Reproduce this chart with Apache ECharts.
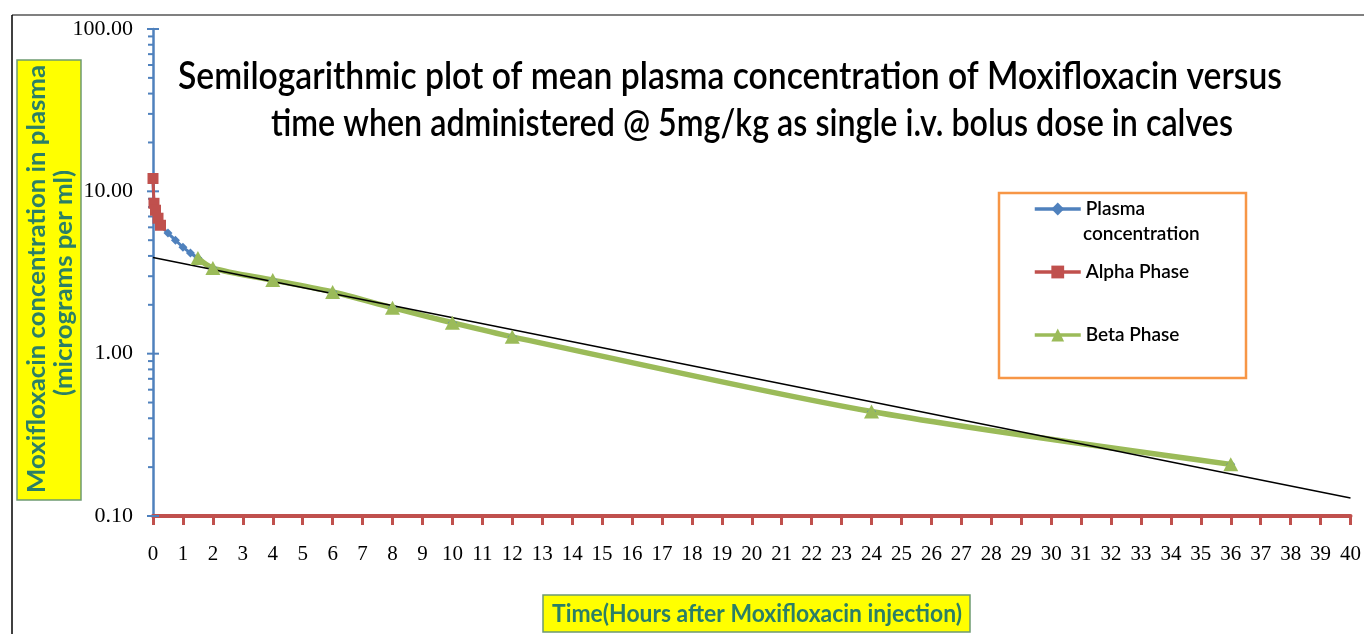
<!DOCTYPE html>
<html>
<head>
<meta charset="utf-8">
<script src="https://cdn.jsdelivr.net/npm/echarts@6/dist/echarts.min.js"></script>
<style>html,body{margin:0;padding:0;background:#fff;}#c{width:1364px;height:634px;}</style>
</head>
<body>
<div id="c"></div>
<script>
// ---- data ----
const plasmaTimes  = [0, 0.033, 0.083, 0.167, 0.25, 0.5, 0.75, 1, 1.25, 1.5, 2, 4, 6, 8, 10, 12, 24, 36];
const plasmaValues = [12.0, 8.44, 7.65, 6.83, 6.18, 5.53, 5.0, 4.53, 4.17, 3.88, 3.37, 2.84, 2.40, 1.92, 1.55, 1.27, 0.44, 0.208];
const alphaTimes   = [0, 0.033, 0.083, 0.167, 0.25];
const alphaValues  = [12.0, 8.44, 7.65, 6.83, 6.18];
const betaTimes    = [1.5, 2, 4, 6, 8, 10, 12, 24, 36];
const betaValues   = [3.88, 3.37, 2.84, 2.40, 1.92, 1.55, 1.27, 0.44, 0.208];
const trendTimes   = [0, 40];
const trendValues  = [3.91, 0.129];
const yMajorTicks  = [0.1, 1, 10, 100];
const yMinorTicks  = [0.2,0.3,0.4,0.5,0.6,0.7,0.8,0.9, 2,3,4,5,6,7,8,9, 20,30,40,50,60,70,80,90];
const seriesNames  = ['Plasma concentration', 'Alpha Phase', 'Beta Phase'];
const titleLines   = ['Semilogarithmic plot of mean plasma concentration of Moxifloxacin versus',
                      'time when administered @ 5mg/kg as single i.v. bolus dose in calves'];
const yAxisTitle   = ['Moxifloxacin concentration in plasma', '(micrograms per ml)'];
const xAxisTitle   = 'Time(Hours after Moxifloxacin injection)';

function zip(a, b) { return a.map((v, i) => [v, b[i]]); }
const ctx = document.createElement('canvas').getContext('2d');
function measure(text, font) { ctx.font = font; return ctx.measureText(text).width; }

const titleFont = '600 38px Lato';
const title1Scale = 1104 / measure(titleLines[0], titleFont);
const title2Scale = 962 / measure(titleLines[1], titleFont);
const nameFont = 'bold 25px Lato';
const yNameScale = 428 / measure(yAxisTitle[0], nameFont);
const xNameScale = 410 / measure(xAxisTitle, nameFont);
const nameColor = '#2b7f66';

const yTickData = yMajorTicks.map(v => [0, v, 1]).concat(yMinorTicks.map(v => [0, v, 0]));

const chart = echarts.init(document.getElementById('c'));
chart.setOption({
  animation: false,
  backgroundColor: '#fff',
  grid: { left: 153, right: 7, top: 29, bottom: 118 },
  xAxis: {
    type: 'value', min: 0, max: 40, interval: 1,
    axisLine: { show: true, onZero: false, lineStyle: { color: '#c0504d', width: 4 } },
    axisTick: { show: true, inside: false, length: 9, interval: 0, lineStyle: { color: '#c0504d', width: 3 } },
    axisLabel: { color: '#000', fontFamily: 'Liberation Serif', fontSize: 21, margin: 28 },
    splitLine: { show: false }
  },
  yAxis: {
    type: 'log', logBase: 10, min: 0.1, max: 100,
    axisLine: { show: true, lineStyle: { color: '#4f81bd', width: 2.5 } },
    axisTick: { show: false },
    axisLabel: { color: '#000', fontFamily: 'Liberation Serif', fontSize: 22, margin: 20,
                 formatter: v => Number(v).toFixed(2) },
    splitLine: { show: false }
  },
  legend: {
    data: seriesNames, orient: 'vertical', left: 1033, top: 198, padding: 0,
    itemWidth: 46, itemHeight: 16, itemGap: 41,
    lineStyle: { width: 3.5 },
    textStyle: { fontFamily: 'Lato', fontWeight: 600, fontSize: 19, color: '#000', lineHeight: 22 },
    formatter: n => n === 'Plasma concentration' ? 'Plasma' : n
  },
  series: [
    { name: 'yticks', type: 'custom', data: yTickData, clip: false, silent: true, z: 3,
      renderItem: (params, api) => {
        const p = api.coord([0, api.value(1)]);
        const major = api.value(2) === 1;
        return { type: 'rect',
          shape: { x: p[0] - (major ? 6 : 5), y: p[1] - 1, width: major ? 12 : 5, height: 2 },
          style: { fill: '#4f81bd' } };
      } },
    { name: seriesNames[0], type: 'line', data: zip(plasmaTimes, plasmaValues), smooth: 0.3,
      symbol: 'diamond', symbolSize: 9, color: '#4f81bd', lineStyle: { width: 3, color: '#4f81bd' } },
    { name: seriesNames[1], type: 'line', data: zip(alphaTimes, alphaValues),
      symbol: 'rect', symbolSize: 11, color: '#c0504d', lineStyle: { width: 3, color: '#c0504d' } },
    { name: seriesNames[2], type: 'line', data: zip(betaTimes, betaValues), smooth: 0.3,
      symbol: 'triangle', symbolSize: [15, 14], color: '#9bbb59', lineStyle: { width: 5.5, color: '#9bbb59' } },
    { name: 'trend', type: 'line', data: zip(trendTimes, trendValues), symbol: 'none', silent: true,
      lineStyle: { width: 1.5, color: '#000' } }
  ],
  graphic: [
    { type: 'line', shape: { x1: 12, y1: 15, x2: 1364, y2: 15 }, style: { stroke: '#808080', lineWidth: 2 } },
    { type: 'line', shape: { x1: 12, y1: 15, x2: 12, y2: 634 }, style: { stroke: '#000', lineWidth: 1.5 } },
    { type: 'text', x: 178, y: 77, scaleX: title1Scale,
      style: { text: titleLines[0], font: titleFont, fill: '#000', align: 'left', verticalAlign: 'middle' } },
    { type: 'text', x: 271, y: 124, scaleX: title2Scale,
      style: { text: titleLines[1], font: titleFont, fill: '#000', align: 'left', verticalAlign: 'middle' } },
    { type: 'rect', shape: { x: 17, y: 60, width: 64, height: 440 },
      style: { fill: '#ffff00', stroke: '#6e9a72', lineWidth: 1.5 } },
    { type: 'text', x: 37, y: 279, rotation: Math.PI / 2, scaleX: yNameScale,
      style: { text: yAxisTitle[0], font: nameFont, fill: nameColor, align: 'center', verticalAlign: 'middle' } },
    { type: 'text', x: 64, y: 283, rotation: Math.PI / 2, scaleX: yNameScale,
      style: { text: yAxisTitle[1], font: nameFont, fill: nameColor, align: 'center', verticalAlign: 'middle' } },
    { type: 'rect', shape: { x: 543, y: 595, width: 427, height: 37 },
      style: { fill: '#ffff00', stroke: '#6e9a72', lineWidth: 1.5 } },
    { type: 'text', x: 757, y: 614, scaleX: xNameScale,
      style: { text: xAxisTitle, font: nameFont, fill: nameColor, align: 'center', verticalAlign: 'middle' } },
    { type: 'rect', shape: { x: 999, y: 193, width: 247, height: 185 },
      style: { fill: 'none', stroke: '#f79646', lineWidth: 2.5 } },
    { type: 'text', x: 1083, y: 234,
      style: { text: 'concentration', font: '600 19px Lato', fill: '#000', align: 'left', verticalAlign: 'middle' } }
  ]
});
</script>
</body>
</html>
